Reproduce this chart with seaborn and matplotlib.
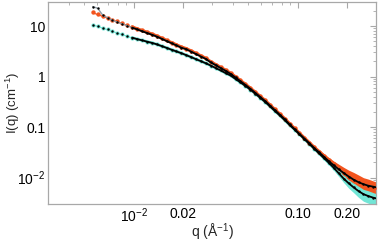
import pandas as pd
import matplotlib
matplotlib.use('Agg')
import matplotlib.pyplot as plt
import matplotlib.ticker as mticker
import seaborn as sns
import numpy as np

# scattering vector q (1/Angstrom)
q = [0.00562, 0.00603, 0.00646, 0.00692, 0.00741, 0.00794, 0.00851, 0.00912, 0.00977, 0.01047,
     0.01122, 0.01202, 0.01288, 0.0138, 0.01479, 0.01585, 0.01698, 0.0182, 0.0195, 0.0209,
     0.0224, 0.024, 0.0257, 0.0275, 0.0295, 0.0316, 0.0339, 0.0363, 0.0389, 0.0417,
     0.0447, 0.0479, 0.0513, 0.055, 0.0589, 0.0631, 0.0676, 0.0724, 0.0776, 0.0832,
     0.0891, 0.0955, 0.1023, 0.1096, 0.1175, 0.1259, 0.1349, 0.1445, 0.1549, 0.166,
     0.1778, 0.1905, 0.2042, 0.2188, 0.2344, 0.2512, 0.2692, 0.2884, 0.309]

# orange sample: intensity and relative error
orange_I = [18.6, 17.1, 15.8, 14.5, 13.4, 12.3, 11.3, 10.4, 9.59, 8.85,
            8.17, 7.55, 6.97, 6.38, 5.77, 5.21, 4.71, 4.26, 3.85, 3.58,
            3.21, 2.87, 2.57, 2.30, 1.96, 1.73, 1.52, 1.34, 1.17, 0.991,
            0.836, 0.706, 0.593, 0.492, 0.408, 0.339, 0.275, 0.224, 0.182, 0.147,
            0.117, 0.0942, 0.0757, 0.0611, 0.0493, 0.0398, 0.0328, 0.0270, 0.0223, 0.0187,
            0.0158, 0.0134, 0.0115, 0.0102, 0.0090, 0.0079, 0.0074, 0.0068, 0.0063]
orange_err = [0.03, 0.03, 0.03, 0.03, 0.03, 0.03, 0.03, 0.03, 0.03, 0.03,
              0.03, 0.03, 0.03, 0.03, 0.03, 0.03, 0.03, 0.03, 0.03, 0.03,
              0.03, 0.03, 0.03, 0.03, 0.03, 0.03, 0.03, 0.03, 0.03, 0.03,
              0.03, 0.03, 0.03, 0.03, 0.03, 0.03, 0.03, 0.03, 0.03, 0.03,
              0.03, 0.035, 0.04, 0.045, 0.05, 0.06, 0.07, 0.09, 0.11, 0.13,
              0.16, 0.19, 0.22, 0.24, 0.25, 0.26, 0.26, 0.26, 0.26]

# turquoise sample
cyan_I = [10.7, 9.95, 9.23, 8.57, 7.94, 7.38, 6.85, 6.35, 5.90, 5.51,
          5.22, 4.92, 4.65, 4.35, 4.01, 3.70, 3.40, 3.14, 2.90, 2.65,
          2.42, 2.20, 2.01, 1.83, 1.65, 1.47, 1.32, 1.17, 1.05, 0.895,
          0.766, 0.653, 0.553, 0.459, 0.381, 0.316, 0.257, 0.209, 0.170, 0.137,
          0.110, 0.0893, 0.0721, 0.0578, 0.0463, 0.0372, 0.0300, 0.0242, 0.0195, 0.0156,
          0.0123, 0.0097, 0.0079, 0.0068, 0.0058, 0.0050, 0.0047, 0.0044, 0.0042]
cyan_err = [0.03, 0.03, 0.03, 0.03, 0.03, 0.03, 0.03, 0.03, 0.03, 0.03,
            0.03, 0.03, 0.03, 0.03, 0.03, 0.03, 0.03, 0.03, 0.03, 0.03,
            0.03, 0.03, 0.03, 0.03, 0.03, 0.03, 0.03, 0.03, 0.03, 0.03,
            0.03, 0.03, 0.03, 0.03, 0.03, 0.03, 0.03, 0.03, 0.03, 0.03,
            0.03, 0.035, 0.04, 0.045, 0.05, 0.06, 0.07, 0.085, 0.1, 0.12,
            0.15, 0.18, 0.22, 0.26, 0.3, 0.32, 0.34, 0.35, 0.36]

# model fits
fit_upper = [24.3, 22.4, 16.5, 14.6, 13.0, 11.9, 11.0, 10.1, 9.3, 8.6,
             7.9, 7.3, 6.75, 6.2, 5.6, 5.05, 4.57, 4.13, 3.73, 3.47,
             3.11, 2.78, 2.49, 2.23, 1.90, 1.68, 1.47, 1.30, 1.13, 0.96,
             0.81, 0.685, 0.575, 0.477, 0.396, 0.329, 0.267, 0.217, 0.176, 0.143,
             0.113, 0.0914, 0.0734, 0.0593, 0.0478, 0.0386, 0.0316, 0.0257, 0.0209, 0.0174,
             0.0145, 0.0123, 0.0105, 0.0091, 0.0081, 0.0074, 0.0069, 0.0066, 0.0063]
fit_lower = [10.7, 9.95, 9.23, 8.57, 7.94, 7.38, 6.85, 6.35, 5.90, 5.51,
             5.22, 4.92, 4.65, 4.35, 4.01, 3.70, 3.40, 3.14, 2.90, 2.65,
             2.42, 2.20, 2.01, 1.83, 1.65, 1.47, 1.32, 1.17, 1.05, 0.895,
             0.766, 0.653, 0.553, 0.459, 0.381, 0.316, 0.257, 0.209, 0.170, 0.137,
             0.110, 0.0893, 0.0721, 0.0578, 0.0463, 0.0372, 0.0300, 0.0242, 0.0195, 0.0155,
             0.0121, 0.0095, 0.0077, 0.0064, 0.0054, 0.0047, 0.0043, 0.0040, 0.0038]

ORANGE = '#F2541E'
CYAN = '#72E6D6'
FRAME = '#A8A8A8'

df = pd.DataFrame({'q': q, 'orange': orange_I, 'cyan': cyan_I,
                   'fit_up': fit_upper, 'fit_lo': fit_lower})
df['o_lo'] = df['orange'] * (1 - np.array(orange_err))
df['o_hi'] = df['orange'] * (1 + np.array(orange_err))
df['c_lo'] = df['cyan'] * (1 - np.array(cyan_err))
df['c_hi'] = df['cyan'] * (1 + np.array(cyan_err))
dense = df[df['q'] > 0.0095]

sns.set_style('white')
plt.rcParams['font.family'] = ['Liberation Sans', 'DejaVu Sans']
plt.rcParams['mathtext.default'] = 'regular'

fig = plt.figure(figsize=(3.78, 2.42), dpi=100)
ax = fig.add_axes([0.127, 0.157, 0.868, 0.835])

# error bands
ax.fill_between(df['q'], df['c_lo'], df['c_hi'], color=CYAN, lw=0, zorder=1)
ax.fill_between(df['q'], df['o_lo'], df['o_hi'], color=ORANGE, lw=0, zorder=2)

# data
sns.lineplot(data=dense, x='q', y='cyan', color=CYAN, lw=2.0, ax=ax, zorder=3)
sns.scatterplot(data=df, x='q', y='cyan', color=CYAN, s=9, linewidth=0, ax=ax, zorder=3)
sns.lineplot(data=dense, x='q', y='orange', color=ORANGE, lw=2.2, ax=ax, zorder=4)
sns.scatterplot(data=df, x='q', y='orange', color=ORANGE, s=10, linewidth=0, ax=ax, zorder=4)

# fits
sns.lineplot(data=df, x='q', y='fit_up', color='#8c9aa6', lw=1.0, ax=ax, zorder=5)
sns.lineplot(data=dense, x='q', y='fit_up', color='black', lw=1.3, ax=ax, zorder=6)
sns.lineplot(data=dense, x='q', y='fit_lo', color='black', lw=1.3, ax=ax, zorder=6)
sns.scatterplot(data=df, x='q', y='fit_up', color='black', s=3, linewidth=0, ax=ax, zorder=6)
sns.scatterplot(data=df, x='q', y='fit_lo', color='black', s=3, linewidth=0, ax=ax, zorder=6)

ax.set_xscale('log')
ax.set_yscale('log')
ax.set_xlim(0.003, 0.3)
ax.set_ylim(0.003, 30)

ax.set_xticks([0.01, 0.02, 0.1, 0.2])
ax.set_xticklabels(['$10^{-2}$', '0.02', '0.10', '0.20'])
ax.xaxis.set_minor_locator(mticker.LogLocator(base=10, subs=np.arange(2, 10)))
ax.xaxis.set_minor_formatter(mticker.NullFormatter())
ax.set_yticks([0.01, 0.1, 1, 10])
ax.set_yticklabels(['$10^{-2}$', '0.1', '1', '10'])
ax.yaxis.set_minor_locator(mticker.LogLocator(base=10, subs=np.arange(2, 10)))
ax.yaxis.set_minor_formatter(mticker.NullFormatter())

ax.tick_params(which='both', direction='in', top=True, right=True, color=FRAME,
               labelsize=10, labelcolor='black', pad=2)
ax.tick_params(which='major', length=4, width=0.8)
ax.tick_params(which='minor', length=2, width=0.6)
for sp in ax.spines.values():
    sp.set_color(FRAME)
    sp.set_linewidth(0.9)

ax.set_xlabel('q (Å$^{-1}$)', fontsize=10)
ax.set_ylabel('I(q) (cm$^{-1}$)', fontsize=9.5)
ax.xaxis.set_label_coords(0.5, -0.09)
ax.yaxis.set_label_coords(-0.078, 0.5)

fig.savefig('out.png', dpi=100)
